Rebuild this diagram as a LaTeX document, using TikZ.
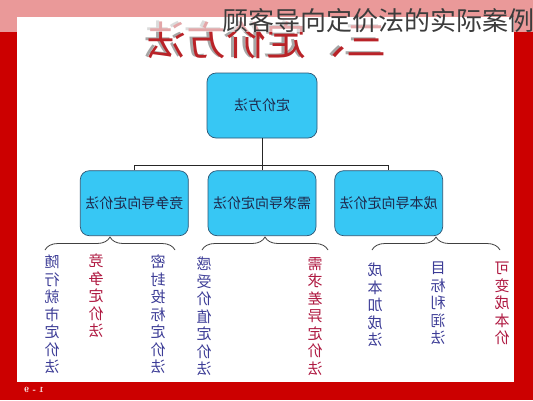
\documentclass[tikz,border=0pt]{standalone}
\usepackage{fontspec}
\usepackage{graphicx}
\usepackage{tikz}
\usetikzlibrary{positioning}
\usetikzlibrary{decorations.pathreplacing}
\newfontfamily\cjk{Noto Sans CJK SC}
\definecolor{pptred}{RGB}{204,0,0}
\definecolor{boxblue}{RGB}{55,199,244}
\definecolor{boxline}{RGB}{45,85,115}
\definecolor{boxtext}{RGB}{30,40,75}
\definecolor{colblue}{RGB}{60,60,150}
\definecolor{colred}{RGB}{175,25,65}
\definecolor{headred}{RGB}{185,35,40}
\definecolor{captiongray}{RGB}{60,60,60}

\begin{document}
\begin{tikzpicture}[x=1pt,y=-1pt,
                    main node/.style={rectangle,rounded corners=9pt,draw=boxline,fill=boxblue,line width=0.7pt,
                                      minimum width=108pt,minimum height=65pt,inner sep=0pt,
                                      font=\cjk\fontsize{14}{16}\selectfont,text=boxtext},
                    col node/.style={anchor=north,align=center,inner sep=0pt,xscale=-1,
                                     font=\cjk\fontsize{15}{17.5}\selectfont},
                    brace line/.style={decorate,decoration={brace,amplitude=13pt},line width=0.8pt,draw=black!75}]

  \useasboundingbox (0,0) rectangle (533,400);
  % slide background
  \fill[pptred] (0,0) rectangle (533,400);
  \fill[white] (17,17) rectangle (514,382);

  % slide heading (mirrored)
  \node[font=\cjk\fontsize{40}{42}\selectfont,text=black!35,xscale=-1] (headshadow) at (263,39) {三、定价方法};
  \node[font=\cjk\fontsize{40}{42}\selectfont,text=headred,xscale=-1] (head) at (266,40) {三、定价方法};
  \node[font=\bfseries\fontsize{8}{8}\selectfont,text=white,xscale=-1] (page) at (34,390) {1 - 9};

  % boxes
  \node[main node,minimum width=110pt](1) at (262,105.5) {\reflectbox{定价方法}};
  \node[main node](3) [below=32pt of 1] {\reflectbox{需求导向定价法}};
  \node[main node](2) [left=19pt of 3] {\reflectbox{竞争导向定价法}};
  \node[main node](4) [right=18pt of 3] {\reflectbox{成本导向定价法}};

  \coordinate[below=27pt of 1] (bus);
  \path[draw=black!85,line width=0.9pt]
    (1) edge (bus)
    (bus) edge (3.north);
  \draw[black!85,line width=0.9pt] (2.north) |- (bus) -| (4.north);

  % braces
  \draw[brace line] (45,250) -- (175,250);
  \draw[brace line] (202,250) -- (328,250);
  \draw[brace line] (372,250) -- (500,250);

  % columns
  \node[col node,text=colblue](c1) at (52,255) {随\\行\\就\\市\\定\\价\\法};
  \node[col node,text=colred](c2) at (96,254) {竞\\争\\定\\价\\法};
  \node[col node,text=colblue](c3) at (158,255) {密\\封\\投\\标\\定\\价\\法};
  \node[col node,text=colblue](c4) at (204,257) {感\\受\\价\\值\\定\\价\\法};
  \node[col node,text=colred](c5) at (315,257) {需\\求\\差\\异\\定\\价\\法};
  \node[col node,text=colblue](c6) at (375,263) {成\\本\\加\\成\\法};
  \node[col node,text=colblue](c7) at (438,262) {目\\标\\利\\润\\法};
  \node[col node,text=colred](c8) at (502,262) {可\\变\\成\\本\\价};

  % overlay caption
  \fill[white,opacity=0.6] (0,0) rectangle (533,32);
  \node[anchor=west,inner sep=0pt,font=\cjk\fontsize{26}{28}\selectfont,text=captiongray] (caption) at (222,21) {顾客导向定价法的实际案例};
\end{tikzpicture}
\end{document}
